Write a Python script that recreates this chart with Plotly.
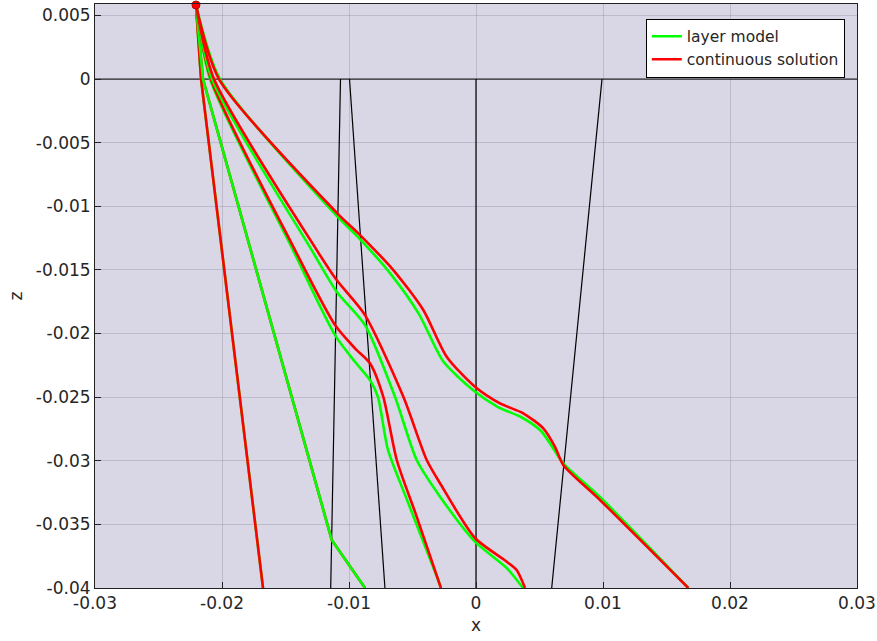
import plotly.graph_objects as go

# ---------------- data ----------------
source_x = [-0.02205]
source_z = [0.00582]

# layer boundaries (top point at z=0, bottom point at z=-0.04)
boundary_top_x = [-0.01067, -0.00996, 0.0, 0.00992]
boundary_bot_x = [-0.01144, -0.00717, 0.0, 0.00596]
boundary_z = [0.0, -0.04]
surface_x = [-0.03, 0.03]
surface_z = [0.0, 0.0]

# layer model rays (green)
green_a_x = [-0.02205, -0.02165, -0.01677]
green_a_z = [0.00582, 0.0, -0.04]
green_b_x = [-0.02205, -0.02150, -0.01136, -0.00874]
green_b_z = [0.00582, 0.0, -0.03623, -0.04]
green_c_x = [-0.02205, -0.02094, -0.01441, -0.01110, -0.00953, -0.00835, -0.00772,
             -0.00693, -0.00543, -0.00307, -0.00276]
green_c_z = [0.00582, 0.0, -0.01344, -0.02012, -0.02222, -0.02365, -0.02499,
             -0.02915, -0.03308, -0.03914, -0.04]
green_d_x = [-0.02205, -0.02079, -0.01294, -0.01097, -0.00874, -0.00638, -0.00467,
             -0.00283, -0.00008, 0.00242, 0.00370]
green_d_z = [0.00582, 0.0, -0.01344, -0.01671, -0.01933, -0.02497, -0.02994,
             -0.03282, -0.03636, -0.03843, -0.04]
green_e_x = [-0.02205, -0.02016, -0.01102, -0.00929, -0.00677, -0.00449, -0.00260,
             -0.00024, 0.00173, 0.00354, 0.00512, 0.00606, 0.00685, 0.00976, 0.01672]
green_e_z = [0.00582, 0.0, -0.01069, -0.01242, -0.01525, -0.01847, -0.02216,
             -0.02444, -0.02578, -0.02656, -0.02766, -0.02900, -0.03018, -0.03285, -0.04]

# continuous solution rays (red)
red_a_x = [-0.02205, -0.02165, -0.01677]
red_a_z = [0.00582, 0.0, -0.04]
red_b_x = [-0.02205, -0.02150, -0.01136, -0.00874]
red_b_z = [0.00582, 0.0, -0.03623, -0.04]
red_c_x = [-0.02205, -0.02087, -0.01425, -0.01110, -0.00953, -0.00835, -0.00730,
           -0.00624, -0.00467, -0.00276]
red_c_z = [0.00582, 0.0, -0.01344, -0.01933, -0.02116, -0.02234, -0.02498,
           -0.02994, -0.03439, -0.04]
red_d_x = [-0.02205, -0.02063, -0.01254, -0.01097, -0.00874, -0.00572, -0.00388,
           -0.00283, -0.00008, 0.00242, 0.00320, 0.00386]
red_d_z = [0.00582, 0.0, -0.01344, -0.01580, -0.01855, -0.02497, -0.02994,
           -0.03177, -0.03607, -0.03793, -0.03859, -0.04]
red_e_x = [-0.02205, -0.02024, -0.01094, -0.00913, -0.00651, -0.00415, -0.00231,
           -0.00008, 0.00189, 0.00372, 0.00530, 0.00622, 0.00687, 0.00976, 0.01672]
red_e_z = [0.00582, 0.0, -0.01053, -0.01226, -0.01501, -0.01815, -0.02182,
           -0.02418, -0.02549, -0.02627, -0.02745, -0.02890, -0.03033, -0.03308, -0.04]

x_tickvals = [-0.03, -0.02, -0.01, 0, 0.01, 0.02, 0.03]
x_ticktext = ["-0.03", "-0.02", "-0.01", "0", "0.01", "0.02", "0.03"]
z_tickvals = [0.005, 0, -0.005, -0.01, -0.015, -0.02, -0.025, -0.03, -0.035, -0.04]
z_ticktext = ["0.005", "0", "-0.005", "-0.01", "-0.015", "-0.02", "-0.025",
              "-0.03", "-0.035", "-0.04"]

GREEN = "#00ff00"
RED = "#ff0000"
FONT = "DejaVu Sans"

fig = go.Figure()

# boundaries
fig.add_trace(go.Scatter(x=surface_x, y=surface_z, mode="lines",
                         line=dict(color="black", width=1), showlegend=False,
                         hoverinfo="skip"))
for xt, xb in zip(boundary_top_x, boundary_bot_x):
    fig.add_trace(go.Scatter(x=[xt, xb], y=boundary_z, mode="lines",
                             line=dict(color="black", width=1.2), showlegend=False,
                             hoverinfo="skip"))

def add_ray(x, z, color, name, show, smooth=False):
    line = dict(color=color, width=2.6)
    if smooth:
        line.update(shape="spline", smoothing=0.7)
    fig.add_trace(go.Scatter(x=x, y=z, mode="lines", name=name,
                             legendgroup=name, showlegend=show, line=line))

LM = "layer model"
CS = "continuous solution"

add_ray(green_a_x, green_a_z, GREEN, LM, True)
add_ray(red_a_x, red_a_z, RED, CS, True)
add_ray(red_b_x, red_b_z, RED, CS, False)
add_ray(green_b_x, green_b_z, GREEN, LM, False)
add_ray(green_c_x, green_c_z, GREEN, LM, False, True)
add_ray(red_c_x, red_c_z, RED, CS, False, True)
add_ray(green_d_x, green_d_z, GREEN, LM, False, True)
add_ray(red_d_x, red_d_z, RED, CS, False, True)
add_ray(green_e_x, green_e_z, GREEN, LM, False, True)
add_ray(red_e_x, red_e_z, RED, CS, False, True)

fig.add_trace(go.Scatter(x=source_x, y=source_z, mode="markers",
                         marker=dict(color=RED, size=8, line=dict(color="#c00000", width=1)),
                         showlegend=False, cliponaxis=False))

axis_common = dict(
    showgrid=True, gridcolor="rgba(90,90,110,0.22)", gridwidth=1,
    zeroline=False, showline=True, linecolor="#222222", linewidth=1,
    mirror=True, ticks="inside", ticklen=6, tickcolor="#222222",
    tickfont=dict(family=FONT, size=17, color="#262626"),
    automargin=False,
)

fig.update_layout(
    width=877, height=641,
    margin=dict(l=95, r=20, t=4, b=53),
    paper_bgcolor="white",
    plot_bgcolor="#d9d6e6",
    font=dict(family=FONT, size=17, color="#262626"),
    xaxis=dict(range=[-0.03, 0.03], tickvals=x_tickvals, ticktext=x_ticktext,
               title=dict(text="x", font=dict(family=FONT, size=17), standoff=6),
               **axis_common),
    yaxis=dict(range=[-0.04, 0.0059], tickvals=z_tickvals, ticktext=z_ticktext,
               title=dict(text="z", font=dict(family=FONT, size=17), standoff=8),
               **axis_common),
    legend=dict(x=0.984, y=0.975, xanchor="right", yanchor="top",
                bgcolor="white", bordercolor="black", borderwidth=1,
                font=dict(family=FONT, size=15.5, color="#262626"),
                tracegroupgap=0),
    showlegend=True,
)

fig.write_html("out.html", config={"displayModeBar": False},
               post_script="document.body.style.margin='0';document.body.style.overflow='hidden';")
